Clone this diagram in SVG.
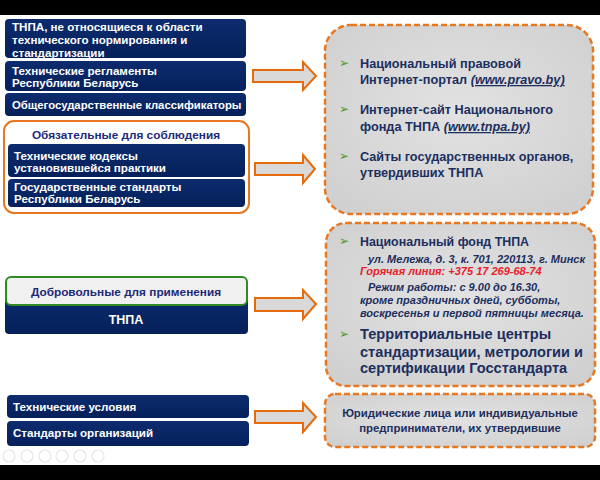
<svg xmlns="http://www.w3.org/2000/svg" width="600" height="480" viewBox="0 0 600 480">
<defs>
<linearGradient id="navy" x1="0" y1="0" x2="0" y2="1"><stop offset="0" stop-color="#0d2c6e"/><stop offset="1" stop-color="#05205a"/></linearGradient>
<radialGradient id="gray" cx="0.5" cy="0.45" r="0.7"><stop offset="0" stop-color="#e2e2e2"/><stop offset="1" stop-color="#cfcfcf"/></radialGradient>
<style>
.nb{fill:url(#navy);}
.wt{fill:#ffffff;font-family:"Liberation Sans",Arial,sans-serif;font-weight:bold;font-size:11.6px;}
.hd{fill:#1c2a78;font-family:"Liberation Sans",Arial,sans-serif;font-weight:bold;font-size:11.8px;text-anchor:middle;}
.rb{fill:url(#gray);stroke:#e87722;stroke-width:2.5;stroke-dasharray:6 3;}
.rt{fill:#1c2f5e;font-family:"Liberation Sans",Arial,sans-serif;font-weight:bold;font-size:12.7px;}
.big{font-size:14.6px;}
.lg{font-size:11.4px;text-anchor:middle;}
.it{fill:#1c2f5e;font-family:"Liberation Sans",Arial,sans-serif;font-weight:bold;font-style:italic;font-size:11px;}
.red{fill:#e8202a;}
.bl{fill:#4e9a2e;font-family:"DejaVu Sans",sans-serif;font-size:12px;}
.ar{fill:#d9d9d9;stroke:#e46c0a;stroke-width:2;stroke-linejoin:miter;}
.nav{fill:none;stroke:#e6e6e6;stroke-width:1.2;}
</style>
</defs>
<rect x="0" y="0" width="600" height="480" fill="#ffffff"/>
<rect x="0" y="0" width="600" height="15" fill="#000000"/>
<rect x="0" y="465" width="600" height="15" fill="#000000"/>

<g id="tnpa-other">
<rect class="nb" x="5" y="19" width="241" height="39" rx="4"/>
<text class="wt" x="12" y="31">ТНПА, не относящиеся к области</text>
<text class="wt" x="12" y="44">технического нормирования и</text>
<text class="wt" x="12" y="56.5">стандартизации</text>
</g>
<g id="tech-reg">
<rect class="nb" x="5" y="61" width="241" height="30" rx="4"/>
<text class="wt" x="12" y="75">Технические регламенты</text>
<text class="wt" x="12" y="87">Республики Беларусь</text>
</g>
<g id="classif">
<rect class="nb" x="5" y="93" width="241" height="23" rx="4"/>
<text class="wt" x="12" y="109" style="font-size:11.3px">Общегосударственные классификаторы</text>
</g>

<g id="mandatory">
<rect x="4" y="121" width="245" height="92" rx="10" fill="#ffffff" stroke="#e87722" stroke-width="2"/>
<text class="hd" x="126" y="139">Обязательные для соблюдения</text>
</g>
<g id="tech-codes">
<rect class="nb" x="8" y="144" width="237" height="33" rx="4"/>
<text class="wt" x="14" y="160">Технические кодексы</text>
<text class="wt" x="14" y="172">установившейся практики</text>
</g>
<g id="state-std">
<rect class="nb" x="8" y="179" width="237" height="28" rx="4"/>
<text class="wt" x="14" y="191">Государственные стандарты</text>
<text class="wt" x="14" y="203">Республики Беларусь</text>
</g>

<g id="voluntary">
<rect class="nb" x="5" y="292" width="243" height="42" rx="4"/>
<rect x="6" y="277" width="241" height="28" rx="5" fill="#f0f0f0" stroke="#2f8a23" stroke-width="2"/>
<text class="hd" x="126" y="296">Добровольные для применения</text>
<text class="wt" x="126" y="324" style="text-anchor:middle;font-size:12.5px">ТНПА</text>
</g>

<g id="tech-cond">
<rect class="nb" x="7" y="395" width="242" height="23" rx="4"/>
<text class="wt" x="13" y="411">Технические условия</text>
</g>
<g id="org-std">
<rect class="nb" x="7" y="421" width="242" height="25" rx="4"/>
<text class="wt" x="13" y="437">Стандарты организаций</text>
</g>

<g id="connectors">
<polygon class="ar" points="253,70 303,70 303,62 316,76 303,90 303,82 253,82"/>
<polygon class="ar" points="255,163 303,163 303,155 315,169 303,183 303,175 255,175"/>
<polygon class="ar" points="255,298 303,298 303,290 316,304 303,319 303,311 255,311"/>
<polygon class="ar" points="255,411 303,411 303,403 316,417 303,432 303,423 255,423"/>
</g>

<g id="sources">
<rect class="rb" x="325" y="25" width="268" height="189" rx="26"/>
<text class="bl" x="339" y="67">➢</text>
<text class="rt" x="360" y="68">Национальный правовой</text>
<text class="rt" x="360" y="84">Интернет-портал <tspan font-style="italic" text-decoration="underline">(www.pravo.by)</tspan></text>
<text class="bl" x="339" y="113">➢</text>
<text class="rt" x="360" y="114">Интернет-сайт Национального</text>
<text class="rt" x="360" y="131">фонда ТНПА <tspan font-style="italic" text-decoration="underline">(www.tnpa.by)</tspan></text>
<text class="bl" x="339" y="160">➢</text>
<text class="rt" x="360" y="161">Сайты государственных органов,</text>
<text class="rt" x="360" y="177">утвердивших ТНПА</text>
</g>

<g id="fund">
<rect class="rb" x="326" y="223" width="269" height="163" rx="20"/>
<text class="bl" x="339" y="245">➢</text>
<text class="rt" x="360" y="246" style="font-size:12.4px">Национальный фонд ТНПА</text>
<text class="it" x="368" y="263">ул. Мележа, д. 3, к. 701, 220113, г. Минск</text>
<text class="it red" x="360" y="275">Горячая линия: +375 17 269-68-74</text>
<text class="it" x="368" y="291">Режим работы: с 9.00 до 16.30,</text>
<text class="it" x="360" y="304">кроме праздничных дней, субботы,</text>
<text class="it" x="360" y="317">воскресенья и первой пятницы месяца.</text>
<text class="bl" x="339" y="338">➢</text>
<text class="rt big" x="360" y="339">Территориальные центры</text>
<text class="rt big" x="360" y="357">стандартизации, метрологии и</text>
<text class="rt big" x="360" y="373">сертификации Госстандарта</text>
</g>

<g id="legal">
<rect class="rb" x="325" y="394" width="270" height="53" rx="10"/>
<text class="rt lg" x="460" y="417">Юридические лица или индивидуальные</text>
<text class="rt lg" x="460" y="432">предприниматели, их утвердившие</text>
</g>

<g id="nav-controls">
<circle class="nav" cx="9" cy="456" r="6"/>
<circle class="nav" cx="27" cy="456" r="6"/>
<circle class="nav" cx="45" cy="456" r="6"/>
<circle class="nav" cx="62" cy="456" r="6"/>
<circle class="nav" cx="80" cy="456" r="6"/>
<circle class="nav" cx="98" cy="456" r="6"/>
</g>
</svg>
